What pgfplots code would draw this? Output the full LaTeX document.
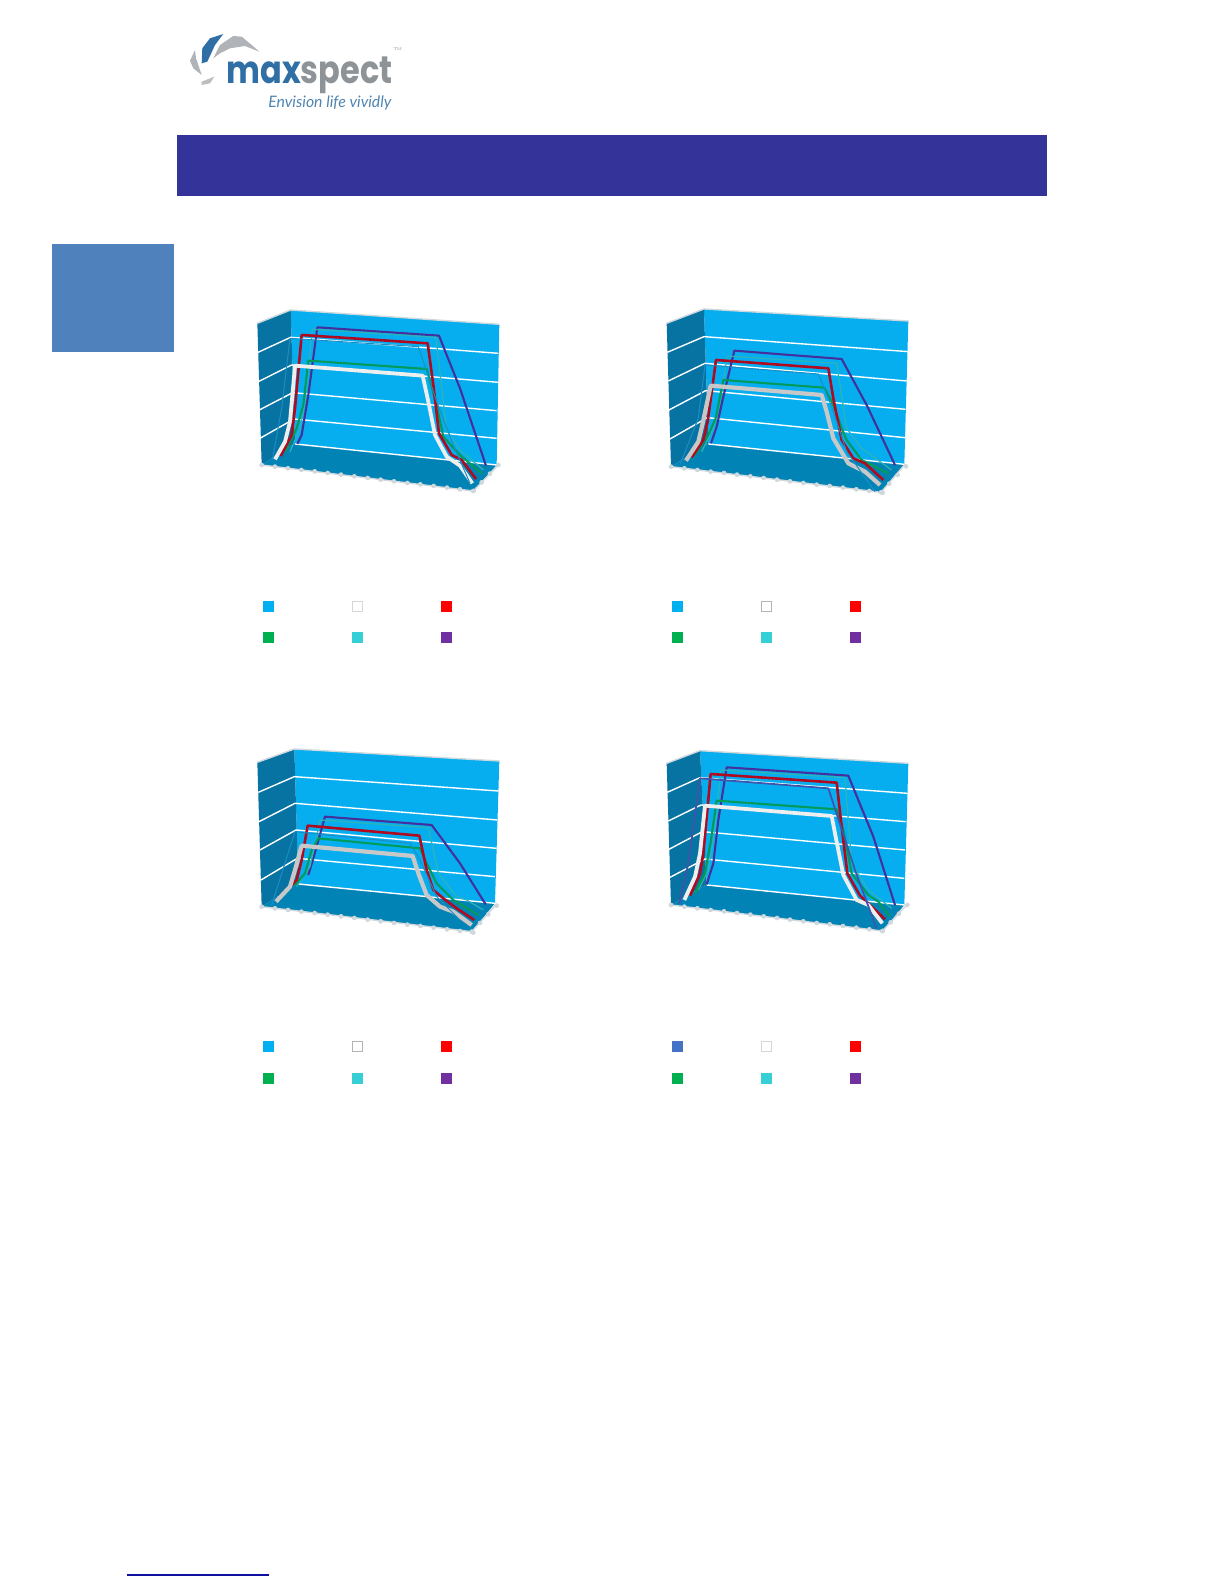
\documentclass[border=0pt]{standalone}
\usepackage{fontspec}
\usepackage{pgfplots}
\usepackage{pgfplotstable}
\pgfplotsset{compat=1.18}
\newfontfamily\logofont{Poppins}
\newfontfamily\tagfont{Lato}

\definecolor{banner}{HTML}{333399}
\definecolor{sidebox}{HTML}{4F81BD}
\definecolor{backwall}{HTML}{06AEEF}
\definecolor{sidewall}{HTML}{0673A3}
\definecolor{floorc}{HTML}{0283B6}
\definecolor{edgec}{HTML}{CFD8DC}
\definecolor{serblue}{HTML}{00B0F0}
\definecolor{serbluedark}{HTML}{4472C4}
\definecolor{serred}{HTML}{FF0000}
\definecolor{sergreen}{HTML}{00B050}
\definecolor{serturq}{HTML}{37CFD6}
\definecolor{serpurple}{HTML}{7030A0}
\definecolor{lnblue}{HTML}{1A8EC4}
\definecolor{lndark}{HTML}{3E55AE}
\definecolor{lnred}{HTML}{B00A20}
\definecolor{lngreen}{HTML}{009A5A}
\definecolor{lnturq}{HTML}{2CB5B8}
\definecolor{lnpurple}{HTML}{44309C}
\definecolor{lnwhite}{HTML}{EEEEEE}
\definecolor{lngrey}{HTML}{C8C8C8}
\definecolor{logoblue}{HTML}{2F6FA5}
\definecolor{logogrey}{HTML}{8E9398}

% tick positions along the front edge of the floor, relative to its left corner
\pgfplotstableread{
x y
0 0
40 5
79 10
119 15
159 19
198 24
238 29
278 34
318 39
357 44
397 49
437 54
476 58
516 63
556 68
595 73
635 78
}\fronttk
\pgfplotstableread{
x y
0 0
25 -26
50 -52
75 -78
}\sidetk

\pgfplotsset{
  panel/.style={hide axis,scale only axis,width=135bp,height=102.5bp,
    xmin=0,xmax=810,ymin=0,ymax=615,y dir=reverse,clip=false,
    anchor=south west,no markers,every axis plot/.append style={line join=round}},
  wall/.style={draw=none,fill=#1},
  grid white/.style={white,line width=0.7bp},
  edge/.style={edgec,line width=0.7bp},
  tk/.style={only marks,mark=|,mark size=1bp,mark options={edgec,line width=0.3bp}},
  s blue/.style={lnblue,line width=0.5bp},
  s dark/.style={lndark,line width=0.9bp},
  s white/.style={lnwhite,line width=1.9bp},
  s grey/.style={lngrey,line width=2.1bp},
  s red/.style={lnred,line width=1.3bp},
  s green/.style={lngreen,line width=1.05bp},
  s turq/.style={lnturq,line width=0.6bp},
  s purple/.style={lnpurple,line width=1.05bp},
}

\begin{document}
\begin{tikzpicture}
% page furniture, axis units are pixels of the page
\begin{axis}[hide axis,scale only axis,width=612bp,height=792bp,at={(0bp,0bp)},anchor=south west,
  xmin=0,xmax=1224,ymin=0,ymax=1584,y dir=reverse,clip=false]
\addplot[draw=none,fill=white] coordinates {(0,0)(1224,0)(1224,1584)(0,1584)} -- cycle;
\addplot[draw=none,fill=banner] coordinates {(177,135)(1047,135)(1047,196)(177,196)} -- cycle;
\addplot[draw=none,fill=sidebox] coordinates {(52,244)(174,244)(174,352)(52,352)} -- cycle;
\addplot[color={rgb,255:red,16;green,16;blue,160},line width=0.6bp] coordinates {(127,1575)(269,1575)};
% logo
\addplot[draw=none,fill=logoblue] coordinates {(201.7,63.3)(202.3,48.3)(210,38.3)(223.3,34)(215,45)(207.3,61.7)} -- cycle;
\addplot[draw=none,fill=logogrey!70] coordinates {(213.3,58.3)(220,45)(233.3,36)(241.7,36.7)(251.7,45)(259.3,51.7)(245,46)(230,48.3)(220,53.3)} -- cycle;
\addplot[draw=none,fill=logogrey!70] coordinates {(190,60.7)(195,50)(196,58.3)(201.7,75)(193.3,68.3)} -- cycle;
\addplot[draw=none,fill=logogrey!60] coordinates {(201.7,81.7)(214.3,76.7)(210,83.3)(201.7,85)} -- cycle;
\node[anchor=base west,inner sep=0pt,text=logoblue] at (axis cs:226,83.5) {\scalebox{1}[1.2]{\logofont\bfseries\fontsize{16bp}{18bp}\selectfont max\textcolor{logogrey}{spect}}};
\node[anchor=base west,inner sep=0pt,text=logoblue!85] at (axis cs:268,107) {\tagfont\itshape\fontsize{7.9bp}{9bp}\selectfont Envision life vividly};
\node[anchor=center,inner sep=0pt,text=logogrey] at (axis cs:398,50) {\fontsize{3.5bp}{4bp}\selectfont ™};
% legend squares
\addplot[only marks,mark=square*,mark size=2.5bp,mark options={serblue,draw=serblue}] coordinates {(268,606)(677,606)(268,1046)};
\addplot[only marks,mark=square*,mark size=2.5bp,mark options={serbluedark,draw=serbluedark}] coordinates {(677,1046)};
\addplot[only marks,mark=square*,mark size=2.5bp,mark options={fill=white,draw=lnwhite!90!black,line width=0.5bp}] coordinates {(357,606)(766,1046)};
\addplot[only marks,mark=square*,mark size=2.5bp,mark options={fill=white,draw=lngrey!90!black,line width=0.5bp}] coordinates {(766,606)(357,1046)};
\addplot[only marks,mark=square*,mark size=2.5bp,mark options={serred,draw=serred}] coordinates {(446,606)(855,606)(446,1046)(855,1046)};
\addplot[only marks,mark=square*,mark size=2.5bp,mark options={sergreen,draw=sergreen}] coordinates {(268,637)(677,637)(268,1078)(677,1078)};
\addplot[only marks,mark=square*,mark size=2.5bp,mark options={serturq,draw=serturq}] coordinates {(357,637)(766,637)(357,1078)(766,1078)};
\addplot[only marks,mark=square*,mark size=2.5bp,mark options={serpurple,draw=serpurple}] coordinates {(446,637)(855,637)(446,1078)(855,1078)};
\end{axis}

% top left
\begin{axis}[panel,at={(120bp,542bp)}]
\addplot[wall=backwall] coordinates {(152,45)(778,88)(770,510)(165,445)} -- cycle;
\addplot[wall=sidewall] coordinates {(52,85)(152,45)(165,445)(65,510)} -- cycle;
\addplot[wall=floorc] coordinates {(65,510)(165,445)(770,510)(700,588)} -- cycle;
\addplot[edge] coordinates {(52,85)(152,45)(778,88)};
\addplot[edge] coordinates {(65,510)(700,588)(775,510)};
\addplot[grid white] coordinates {(52,173)(152,127)(775,175)};
\addplot[grid white] coordinates {(55,260)(155,210)(775,262)};
\addplot[grid white] coordinates {(58,345)(158,293)(770,347)};
\addplot[grid white] coordinates {(60,430)(162,372)(770,430)};
\addplot[grid white] coordinates {(165,447)(770,510)};
\addplot[tk] table[x expr=\thisrow{x}+65,y expr=\thisrow{y}+510] {\fronttk};
\addplot[tk] table[x expr=\thisrow{x}+700,y expr=\thisrow{y}+588] {\sidetk};
\addplot[s purple] coordinates {(172,447)(185,420)(205,300)(232,97)(597,122)(660,280)(738,512)};
\addplot[s turq] coordinates {(150,470)(180,400)(195,320)(217,103)(588,127)(610,320)(620,405)(660,465)(730,525)};
\addplot[s green] coordinates {(135,470)(170,400)(190,330)(205,197)(560,222)(590,330)(610,425)(660,480)(725,535)};
\addplot[s red] coordinates {(122,483)(155,420)(165,340)(185,120)(563,145)(580,270)(597,415)(635,480)(665,495)(708,552)};
\addplot[s white] coordinates {(105,493)(135,440)(150,380)(165,212)(548,242)(565,320)(585,420)(620,485)(660,512)(697,565)};
\addplot[s blue] coordinates {(97,495)(125,340)(150,130)(535,155)(590,320)(640,450)(690,565)};
\end{axis}

% top right
\begin{axis}[panel,at={(322.5bp,542bp)}]
\addplot[wall=backwall] coordinates {(177,42)(790,78)(778,508)(190,445)} -- cycle;
\addplot[wall=sidewall] coordinates {(65,85)(177,42)(190,445)(78,515)} -- cycle;
\addplot[wall=floorc] coordinates {(78,515)(190,445)(778,508)(708,592)} -- cycle;
\addplot[edge] coordinates {(65,85)(177,42)(790,78)};
\addplot[edge] coordinates {(78,515)(708,592)(780,508)};
\addplot[grid white] coordinates {(67,172)(177,125)(790,170)};
\addplot[grid white] coordinates {(70,258)(180,205)(785,258)};
\addplot[grid white] coordinates {(72,345)(182,287)(782,343)};
\addplot[grid white] coordinates {(75,432)(187,368)(780,428)};
\addplot[grid white] coordinates {(190,447)(778,508)};
\addplot[tk] table[x expr=\thisrow{x}+78,y expr=\thisrow{y}+515] {\fronttk};
\addplot[tk] table[x expr=\thisrow{x}+708,y expr=\thisrow{y}+592] {\sidetk};
\addplot[s purple] coordinates {(198,445)(215,395)(235,305)(268,167)(590,192)(665,330)(750,510)};
\addplot[s turq] coordinates {(170,470)(205,400)(225,320)(247,183)(575,205)(605,400)(650,460)(740,525)};
\addplot[s green] coordinates {(150,480)(190,420)(212,370)(235,255)(538,278)(565,330)(590,400)(605,435)(650,495)(730,535)};
\addplot[s red] coordinates {(140,487)(175,435)(188,380)(213,195)(550,220)(565,310)(590,435)(625,490)(660,505)(715,555)};
\addplot[s grey] coordinates {(123,497)(160,440)(172,390)(197,272)(530,300)(545,350)(565,430)(610,505)(660,530)(705,570)};
\addplot[s blue] coordinates {(105,508)(160,370)(180,210)(520,237)(560,335)(605,470)(690,590)};
\end{axis}

% bottom left
\begin{axis}[panel,at={(120bp,324.5bp)}]
\addplot[wall=backwall] coordinates {(163,57)(778,93)(765,520)(175,460)} -- cycle;
\addplot[wall=sidewall] coordinates {(52,97)(163,57)(175,460)(65,530)} -- cycle;
\addplot[wall=floorc] coordinates {(65,530)(175,460)(765,520)(695,605)} -- cycle;
\addplot[edge] coordinates {(52,97)(163,57)(778,93)};
\addplot[edge] coordinates {(65,530)(695,605)(770,522)};
\addplot[grid white] coordinates {(55,187)(163,140)(775,183)};
\addplot[grid white] coordinates {(57,275)(165,220)(772,270)};
\addplot[grid white] coordinates {(60,360)(168,300)(770,355)};
\addplot[grid white] coordinates {(63,450)(172,385)(765,440)};
\addplot[grid white] coordinates {(175,462)(765,520)};
\addplot[tk] table[x expr=\thisrow{x}+65,y expr=\thisrow{y}+530] {\fronttk};
\addplot[tk] table[x expr=\thisrow{x}+695,y expr=\thisrow{y}+605] {\sidetk};
\addplot[s purple] coordinates {(205,435)(220,385)(255,260)(575,285)(660,400)(737,523)};
\addplot[s turq] coordinates {(170,470)(210,410)(240,270)(565,293)(595,430)(650,500)(680,510)(730,540)};
\addplot[s green] coordinates {(165,465)(195,430)(215,360)(235,325)(540,355)(560,400)(590,460)(640,510)(715,555)};
\addplot[s red] coordinates {(125,495)(170,450)(185,390)(203,287)(538,317)(560,420)(580,480)(610,505)(650,535)(703,570)};
\addplot[s grey] coordinates {(108,515)(150,470)(165,420)(185,347)(518,378)(535,430)(560,495)(600,530)(640,545)(695,585)};
\addplot[s blue] coordinates {(95,525)(165,305)(510,340)(540,390)(590,500)(660,570)};
\end{axis}

% bottom right
\begin{axis}[panel,at={(322.5bp,324.5bp)}]
\addplot[wall=backwall] coordinates {(165,62)(790,100)(778,525)(185,463)} -- cycle;
\addplot[wall=sidewall] coordinates {(65,100)(165,62)(185,463)(78,525)} -- cycle;
\addplot[wall=floorc] coordinates {(78,525)(185,463)(778,525)(712,603)} -- cycle;
\addplot[edge] coordinates {(65,100)(165,62)(790,100)};
\addplot[edge] coordinates {(78,525)(712,603)(785,525)};
\addplot[grid white] coordinates {(67,187)(165,143)(787,190)};
\addplot[grid white] coordinates {(70,273)(168,225)(782,275)};
\addplot[grid white] coordinates {(72,358)(172,305)(780,360)};
\addplot[grid white] coordinates {(75,442)(180,387)(778,445)};
\addplot[grid white] coordinates {(185,465)(778,525)};
\addplot[tk] table[x expr=\thisrow{x}+78,y expr=\thisrow{y}+525] {\fronttk};
\addplot[tk] table[x expr=\thisrow{x}+712,y expr=\thisrow{y}+603] {\sidetk};
\addplot[s purple] coordinates {(185,463)(205,400)(220,270)(245,112)(610,137)(685,320)(750,525)};
\addplot[s turq] coordinates {(160,480)(190,420)(205,330)(228,120)(600,143)(620,400)(670,480)(740,535)};
\addplot[s green] coordinates {(150,490)(180,430)(198,330)(215,212)(575,238)(595,300)(620,430)(670,495)(700,515)(735,560)};
\addplot[s red] coordinates {(135,497)(165,430)(175,370)(197,132)(575,158)(590,290)(607,430)(645,497)(720,568)};
\addplot[s white] coordinates {(118,510)(150,440)(165,370)(180,227)(560,258)(570,310)(595,435)(635,510)(670,525)(712,580)};
\addplot[s dark] coordinates {(103,522)(130,400)(165,145)(550,175)(630,420)(695,597)};
\end{axis}
\end{tikzpicture}
\end{document}
